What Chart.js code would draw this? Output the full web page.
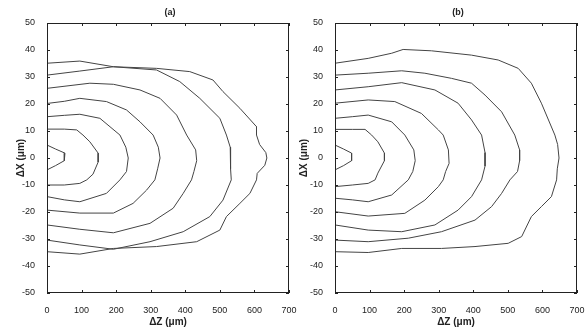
<!DOCTYPE html>
<html>
<head>
<meta charset="utf-8">
<script src="https://cdn.jsdelivr.net/npm/chart.js@4/dist/chart.umd.min.js"></script>
<style>
  body { margin: 0; background: #fff; }
  #wrap { position: relative; width: 587px; height: 330px; overflow: hidden; }
  canvas { position: absolute; top: 0; }
  #ca { left: 0; }
  #cb { left: 293px; }
</style>
</head>
<body>
<div id="wrap">
  <canvas id="ca" width="305" height="330"></canvas>
  <canvas id="cb" width="294" height="330"></canvas>
</div>
<script>
// contour lines, [ΔZ µm, ΔX µm], traced from the top edge round to the bottom edge
const a1 = [[0,4.8],[25,3.3],[52,1.8],[50,-1],[25,-2.8],[0,-4.4]];
const a2 = [[0,10.7],[50,10.7],[86,10.4],[104,8.5],[124,6],[148,1.8],[148,-1.5],[133,-6],[115,-8.1],[95,-9.4],[50,-10],[0,-10]];
const a3 = [[0,15.3],[50,15.8],[95,16.2],[153,14.7],[211,8.5],[228,4],[235,0],[230,-5],[211,-8.1],[172,-13.1],[95,-16.2],[50,-15.5],[0,-14.3]];
const a4 = [[0,20.2],[50,21],[95,22.1],[172,20.9],[230,17.8],[269,13.4],[307,8.5],[322,4],[327,0],[320,-4],[312,-8.1],[288,-11.9],[249,-16.8],[192,-20.4],[95,-20.4],[0,-19.3]];
const a5 = [[0,25.8],[124,27.7],[192,27.3],[269,25.2],[327,22.1],[375,15.9],[404,8.5],[430,3],[433,-1],[425,-5],[418,-8.1],[394,-13.1],[365,-18.6],[298,-24.2],[192,-27.7],[95,-26.4],[0,-24.8]];
const a6 = [[0,30.7],[95,32.2],[192,33.8],[317,32.6],[384,28.3],[442,22.1],[500,14.7],[519,8.5],[530,4],[532,0],[530,-4],[533,-8.1],[509,-15.6],[471,-21.7],[394,-27.3],[298,-31],[192,-33.8],[95,-32.2],[0,-30.4]];
const a7 = [[0,35.1],[95,35.9],[192,33.8],[317,33.2],[413,32],[480,28.9],[509,24.6],[558,18.4],[606,11.6],[606,8.5],[615,5],[633,2],[636,0],[630,-2.7],[608,-5.7],[606,-8.1],[587,-13.1],[558,-16.8],[519,-21.7],[500,-26.7],[433,-31],[317,-32.8],[192,-33.5],[95,-35.6],[0,-34.7]];

const b1 = [[0,4.8],[25,3.3],[48,1.8],[48,-1],[25,-2.8],[0,-4.4]];
const b2 = [[0,10.6],[50,10.6],[87,10.6],[106,8.5],[124,6],[143,1.8],[143,-1],[124,-5.6],[116,-8.1],[96,-9.4],[50,-10],[0,-10.6]];
const b3 = [[0,14.7],[50,15.3],[96,15.9],[164,13.4],[202,8.5],[228,3],[232,-1],[225,-5],[212,-8.1],[164,-13.7],[96,-16.2],[50,-15.5],[0,-14.9]];
const b4 = [[0,20.3],[96,21.5],[173,20.9],[250,16.5],[299,10.4],[313,8.5],[328,3],[330,-2],[320,-5],[313,-8.1],[299,-10.6],[260,-15.6],[202,-20.5],[96,-21.5],[0,-19.9]];
const b5 = [[0,25.2],[96,26.4],[193,27.9],[289,25.2],[356,20.3],[395,14.1],[424,8.5],[434,2],[434,-3],[424,-8.1],[395,-14.3],[356,-19.3],[289,-24.8],[193,-27.3],[96,-26.7],[0,-24.8]];
const b6 = [[0,30.7],[96,31.4],[193,32.3],[260,31.4],[337,29.5],[395,27.7],[434,23.3],[482,17.1],[520,8.5],[534,3],[534,-1],[528,-5],[506,-8.1],[482,-13.1],[453,-18],[405,-23],[308,-27.3],[212,-29.7],[96,-31],[0,-30.4]];
const b7 = [[0,35.1],[96,36.9],[164,38.8],[197,40.2],[279,39.7],[395,38.1],[472,36.3],[530,33.2],[568,27.7],[597,20.3],[636,8.5],[644,5],[648,0],[643,-4],[641,-8.1],[626,-14.3],[597,-18],[568,-21.7],[540,-29.1],[501,-31.6],[405,-32.8],[308,-33.5],[193,-33.5],[96,-35],[0,-34.7]];

const zTicks = [0, 100, 200, 300, 400, 500, 600, 700];
const xTicks = [-50, -40, -30, -20, -10, 0, 10, 20, 30, 40, 50];

const FONT = 'Arial, "Liberation Sans", sans-serif';
const INK = '#222';

// MATLAB-style box with inward ticks on all four sides, plus the panel title
const frame = {
  id: 'frame',
  afterDraw(chart, args, opts) {
    const { ctx, chartArea: a, scales: { x, y } } = chart;
    ctx.save();
    ctx.strokeStyle = INK;
    ctx.lineWidth = 1;
    ctx.strokeRect(a.left + 0.5, a.top + 0.5, a.right - a.left - 1, a.bottom - a.top - 1);
    ctx.beginPath();
    x.ticks.forEach(t => {
      const px = Math.round(x.getPixelForValue(t.value)) + 0.5;
      ctx.moveTo(px, a.bottom); ctx.lineTo(px, a.bottom - 3);
      ctx.moveTo(px, a.top);    ctx.lineTo(px, a.top + 3);
    });
    y.ticks.forEach(t => {
      const py = Math.round(y.getPixelForValue(t.value)) + 0.5;
      ctx.moveTo(a.left, py);  ctx.lineTo(a.left + 3, py);
      ctx.moveTo(a.right, py); ctx.lineTo(a.right - 3, py);
    });
    ctx.stroke();
    ctx.fillStyle = INK;
    ctx.font = 'bold 9px ' + FONT;
    ctx.textAlign = 'center';
    ctx.textBaseline = 'middle';
    ctx.fillText(opts.text, (a.left + a.right) / 2 + 2, 13);
    ctx.restore();
  }
};

function makePanel(id, title, lines, yAxisW, padRight, yTitlePad) {
  const datasets = lines.map(pts => ({
    data: pts.map(([z, x]) => ({ x: z, y: x })),
    showLine: true,
    borderColor: '#444',
    borderWidth: 1,
    pointRadius: 0,
    tension: 0,
    fill: false,
  }));

  return new Chart(document.getElementById(id), {
    type: 'scatter',
    data: { datasets },
    plugins: [frame],
    options: {
      responsive: false,
      animation: false,
      layout: { padding: { top: 23, right: padRight, left: 0, bottom: 0 } },
      plugins: {
        legend: { display: false },
        tooltip: { enabled: false },
        frame: { text: title },
      },
      scales: {
        x: {
          type: 'linear',
          min: 0, max: 700,
          grid: { display: false },
          border: { display: false },
          afterBuildTicks: s => { s.ticks = zTicks.map(v => ({ value: v })); },
          afterFit: s => { s.height = 37; s.paddingLeft = 0; s.paddingRight = 0; },
          ticks: { color: INK, padding: 4, maxRotation: 0, autoSkip: false, font: { size: 9, family: FONT } },
          title: {
            display: true,
            text: 'ΔZ (μm)',
            color: INK,
            padding: { top: 0, bottom: 2 },
            font: { size: 10, weight: 'bold', family: FONT },
          },
        },
        y: {
          type: 'linear',
          min: -50, max: 50,
          grid: { display: false },
          border: { display: false },
          afterBuildTicks: s => { s.ticks = xTicks.map(v => ({ value: v })); },
          afterFit: s => { s.width = yAxisW; s.paddingTop = 0; s.paddingBottom = 0; },
          ticks: { color: INK, padding: 4, autoSkip: false, font: { size: 9, family: FONT } },
          title: {
            display: true,
            text: 'ΔX (μm)',
            color: INK,
            padding: { top: yTitlePad, bottom: 0 },
            font: { size: 10, weight: 'bold', family: FONT },
          },
        },
      },
    },
  });
}

makePanel('ca', '(a)', [a1, a2, a3, a4, a5, a6, a7], 47, 16, 15);
makePanel('cb', '(b)', [b1, b2, b3, b4, b5, b6, b7], 42, 10, 5);
</script>
</body>
</html>
